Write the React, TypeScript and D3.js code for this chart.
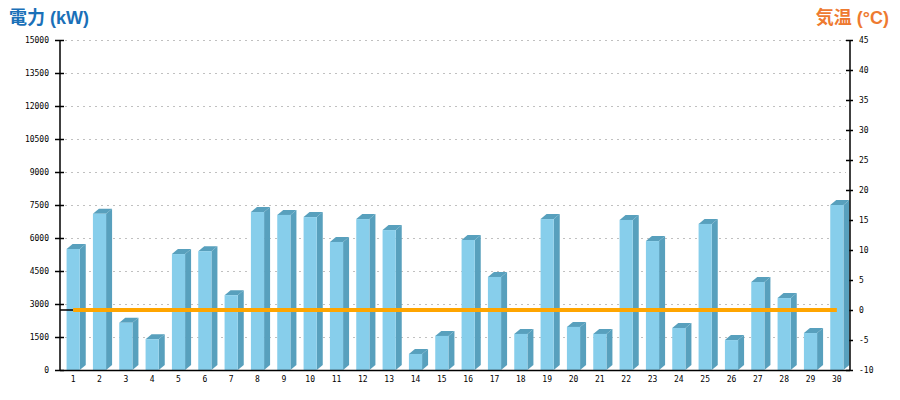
import React from "react";
import * as d3 from "d3";

const days: string[] = ["1","2","3","4","5","6","7","8","9","10","11","12","13","14","15","16","17","18","19","20","21","22","23","24","25","26","27","28","29","30"];
const power: number[] = [5500,7100,2150,1400,5270,5400,3400,7180,7050,6950,5820,6860,6360,730,1550,5910,4230,1640,6860,1960,1640,6820,5860,1910,6640,1360,4000,3270,1680,7500];
const temperature: number[] = [0,0,0,0,0,0,0,0,0,0,0,0,0,0,0,0,0,0,0,0,0,0,0,0,0,0,0,0,0,0];
const powerTicks: number[] = [0,1500,3000,4500,6000,7500,9000,10500,12000,13500,15000];
const tempTicks: number[] = [-10,-5,0,5,10,15,20,25,30,35,40,45];

const W = 900, H = 400;
const L = 60, R = 850, T = 40, B = 370;
const DX = 6, DY = 5;
const FRONT = "#87CEEB";
const SIDE = "#58A0BD";
const FONT = "'DejaVu Sans Mono', monospace";
const TITLE_FONT = "'Liberation Sans', 'Noto Sans CJK JP', sans-serif";

export default function App() {
  const x = d3.scaleBand<string>().domain(days).range([L, R]).paddingInner(0.5).paddingOuter(0.25);
  const yP = d3.scaleLinear().domain([0, 15000]).range([B, T]);
  const yT = d3.scaleLinear().domain([-10, 45]).range([B, T]);
  const bw = x.bandwidth();
  const cx = (d: string) => (x(d) as number) + bw / 2;
  const line = d3.line<number>().x((_, i) => cx(days[i])).y((d) => yT(d));

  return (
    <svg width={W} height={H} style={{ position: "absolute", left: 0, top: 0 }}>
      <rect width={W} height={H} fill="#fff" />
      <text x={9} y={24} fill="#1A70B8" fontSize={18} fontWeight="bold" fontFamily={TITLE_FONT}>電力 (kW)</text>
      <text x={889} y={24} textAnchor="end" fill="#EE7A30" fontSize={18} fontWeight="bold" fontFamily={TITLE_FONT}>気温 (°C)</text>
      {powerTicks.map((t) => (
        <g key={"g" + t}>
          {t > 0 && <line x1={65} x2={846} y1={yP(t) + 0.5} y2={yP(t) + 0.5} stroke="#c0c0c0" strokeDasharray="2,4" />}
          <line x1={55} x2={64} y1={yP(t) + 0.5} y2={yP(t) + 0.5} stroke="#000" strokeWidth={1.5} />
          <text x={49} y={yP(t) + 3} textAnchor="end" fontSize={8} fontFamily={FONT} fill="#000">{t}</text>
        </g>
      ))}
      {tempTicks.map((t) => (
        <g key={"t" + t}>
          <line x1={846} x2={853} y1={yT(t) + 0.5} y2={yT(t) + 0.5} stroke="#000" strokeWidth={1.5} />
          <text x={859} y={yT(t) + 3} fontSize={8} fontFamily={FONT} fill="#000">{t}</text>
        </g>
      ))}
      {power.map((v, i) => {
        const x0 = x(days[i]) as number;
        const x1 = x0 + bw;
        const y0 = yP(v);
        return (
          <g key={"b" + i}>
            <polygon points={`${x1},${y0} ${x1 + DX},${y0 - DY} ${x1 + DX},${B - DY} ${x1},${B}`} fill={SIDE} />
            <polygon points={`${x0},${y0} ${x0 + DX},${y0 - DY} ${x1 + DX},${y0 - DY} ${x1},${y0}`} fill={SIDE} />
            <rect x={x0} y={y0} width={bw} height={B - y0} fill={FRONT} />
          </g>
        );
      })}
      <line x1={L} x2={L} y1={T} y2={B} stroke="#000" strokeWidth={1.5} />
      <line x1={R} x2={R} y1={T} y2={B} stroke="#000" strokeWidth={1.5} />
      <line x1={L} x2={R} y1={B + 0.5} y2={B + 0.5} stroke="#000" strokeWidth={1.5} />
      <line x1={L} x2={cx(days[0])} y1={yT(temperature[0])} y2={yT(temperature[0])} stroke="#000" strokeWidth={1.5} />
      <path d={line(temperature) || ""} fill="none" stroke="#FFA500" strokeWidth={4} />
      {days.map((d) => (
        <text key={"x" + d} x={cx(d)} y={382} textAnchor="middle" fontSize={8} fontFamily={FONT} fill="#000">{d}</text>
      ))}
    </svg>
  );
}
